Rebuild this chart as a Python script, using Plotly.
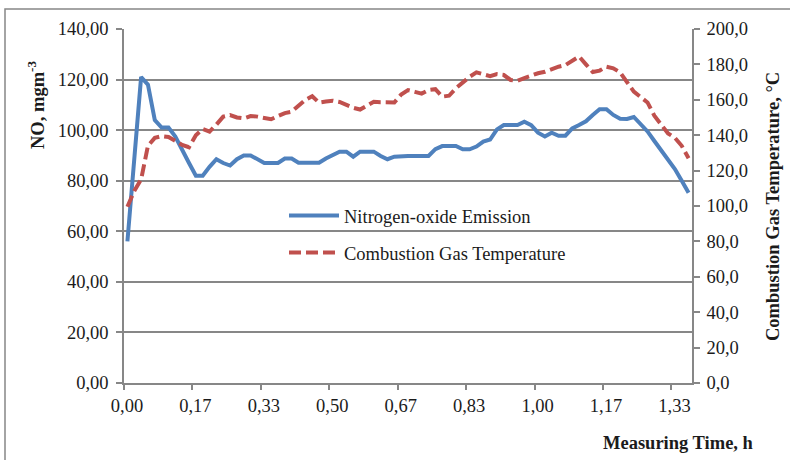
import plotly.graph_objects as go

# ---- data ----
minutes = list(range(83))  # one reading per minute
no_emission = [
    56, 89, 121, 118, 104, 101, 101, 97.5, 92, 87,
    82, 82, 85.5, 88.5, 87, 86, 88.5, 90, 90, 88.5,
    87, 87, 87, 88.8, 88.8, 87.1, 87.1, 87.1, 87.1, 88.8,
    90, 91.5, 91.5, 89.5, 91.5, 91.5, 91.5, 89.8, 88.5, 89.5,
    89.8, 89.8, 89.8, 89.8, 89.8, 92.5, 93.7, 93.7, 93.7, 92.4,
    92.4, 93.5, 95.5, 96.3, 100.3, 102, 102, 102, 103.3, 102,
    99, 97.5, 99, 97.8, 97.8, 100.7, 102, 103.5, 106, 108.3,
    108.3, 106, 104.5, 104.4, 105.2, 102.5, 99.5, 95.7, 92, 88.4,
    84.6, 80, 75.2,
]
gas_temp = [
    99.6, 108.5, 115, 134, 138.5, 139.5, 139, 137, 134.5, 133.2,
    140, 143.5, 142, 146, 150.5, 151.4, 150, 149.5, 150.8, 150.5,
    149.5, 149, 150.8, 152.5, 153.3, 157, 160, 162, 158.4, 159,
    159.5, 158.8, 157, 155.5, 154.5, 156.5, 158.9, 158.6, 158.3, 158.5,
    163, 165.5, 164.5, 163.5, 165.5, 166, 161.8, 162.3, 166.5, 170,
    173, 175.5, 174.5, 173.4, 174.5, 174, 171.2, 170.8, 172.3, 173.8,
    175, 175.8, 177.5, 178.7, 179.6, 182, 184.5, 180, 175.7, 176.5,
    178.7, 177.8, 175.5, 170, 164.6, 161.5, 158.5, 151, 146, 141,
    138.5, 134, 127,
]
x_tick_minutes = [0, 10, 20, 30, 40, 50, 60, 70, 80]
x_tick_labels = ["0,00", "0,17", "0,33", "0,50", "0,67", "0,83", "1,00", "1,17", "1,33"]

# ---- derived ----
time_h = [m / 60 for m in minutes]
half = 0.5 / 60
boundary_vals = [m / 60 - half for m in x_tick_minutes]

FONT = "Liberation Serif, Times New Roman, serif"
GRAY = "#878787"
TXT = "#1b1b1b"
FS = 18.5

fig = go.Figure()
fig.add_trace(go.Scatter(
    x=time_h, y=no_emission, name="Nitrogen-oxide Emission", mode="lines",
    line=dict(color="#4F81BD", width=4), legend="legend", showlegend=True))
fig.add_trace(go.Scatter(
    x=time_h, y=gas_temp, name="Combustion Gas Temperature", mode="lines",
    line=dict(color="#C0504D", width=4, dash="12px,5px"), yaxis="y2",
    legend="legend2", showlegend=True))

L, R, T, B = 124, 98, 29, 77
W, H = 790, 460
PW, PH = W - L - R, H - T - B


def px(xp):
    return (xp - L) / PW


def py(yp):
    return (H - B - yp) / PH


fig.update_layout(
    width=W, height=H,
    margin=dict(l=L, r=R, t=T, b=B, autoexpand=False),
    paper_bgcolor="white", plot_bgcolor="white",
    separators=", ",
    showlegend=True,
    font=dict(family=FONT, size=FS, color=TXT),
    xaxis=dict(
        range=[-half, minutes[-1] / 60 + half],
        tickmode="array", tickvals=boundary_vals, ticktext=x_tick_labels,
        ticklabelshift=3,
        ticks="outside", ticklen=5, tickcolor=GRAY, tickwidth=1.5,
        showline=True, linecolor=GRAY, linewidth=1.5,
        showgrid=False, zeroline=False,
    ),
    yaxis=dict(
        range=[0, 140], dtick=20, tickformat=".2f",
        showgrid=True, gridcolor=GRAY, gridwidth=1.5,
        showline=True, linecolor=GRAY, linewidth=1.5,
        ticks="outside", ticklen=6, tickcolor=GRAY, tickwidth=1.5,
        ticklabelstandoff=4, zeroline=False,
    ),
    yaxis2=dict(
        range=[0, 200], dtick=20, tickformat=".1f",
        overlaying="y", side="right",
        showgrid=False, showline=True, linecolor=GRAY, linewidth=1.5,
        ticks="outside", ticklen=6, tickcolor=GRAY, tickwidth=1.5,
        ticklabelstandoff=3, zeroline=False,
    ),
    legend=dict(x=px(284), y=py(216), xanchor="left", yanchor="middle",
                bgcolor="rgba(0,0,0,0)", font=dict(size=FS), itemwidth=50),
    legend2=dict(x=px(284), y=py(253), xanchor="left", yanchor="middle",
                 bgcolor="rgba(0,0,0,0)", font=dict(size=FS), itemwidth=50),
    shapes=[dict(type="rect", xref="paper", yref="paper",
                 x0=px(5), x1=px(805), y0=py(475), y1=py(9),
                 line=dict(color=GRAY, width=1.5), fillcolor="rgba(0,0,0,0)",
                 layer="below")],
    annotations=[
        dict(text="<b>NO, mgm<sup>-3</sup></b>", xref="paper", yref="paper",
             x=px(36), y=py(105), textangle=-90, showarrow=False,
             xanchor="center", yanchor="middle", font=dict(size=FS, color=TXT)),
        dict(text="<b>Combustion Gas Temperature, °C</b>", xref="paper", yref="paper",
             x=px(773), y=py(207), textangle=-90, showarrow=False,
             xanchor="center", yanchor="middle", font=dict(size=FS, color=TXT)),
        dict(text="<b>Measuring Time, h</b>", xref="paper", yref="paper",
             x=px(678), y=py(443), showarrow=False,
             xanchor="center", yanchor="middle", font=dict(size=FS, color=TXT)),
    ],
)

fig.write_html("out.html", config={"displayModeBar": False},
               post_script="document.body.style.margin='0px';")
